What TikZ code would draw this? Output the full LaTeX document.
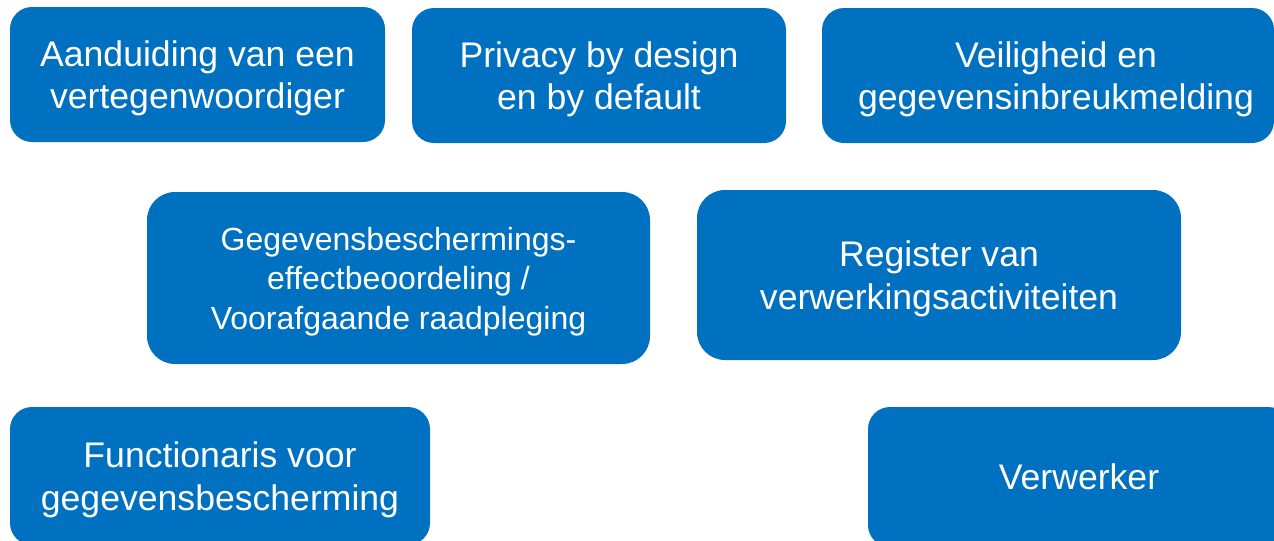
\documentclass[tikz,border=0pt]{standalone}
\usepackage{fontspec}
\setmainfont{Liberation Sans}
\definecolor{avgblauw}{HTML}{0070C0}
\tikzset{
  blok/.style={shape=rectangle,fill=avgblauw,text=white,align=center,inner sep=0pt,
    rounded corners=16.5pt,minimum height=101.25pt},
  groot/.style={font=\fontsize{26.7}{32}\selectfont},
  klein/.style={font=\fontsize{24}{29.6}\selectfont},
  zak/.style={text depth=#1},
}
\begin{document}
\begin{tikzpicture}[x=0.75pt,y=-0.75pt]
  \useasboundingbox (0,0) rectangle (1274,540);
  \clip (0,0) rectangle (1274,540);
  % bovenste rij
  \node[blok,groot,zak=-2pt,minimum width=281.25pt] (vertegenwoordiger) at (197.5,74.5) {Aanduiding van een\\vertegenwoordiger};
  \node[blok,groot,zak=-2pt,minimum width=280.5pt] (privacy) at (599,75.5) {Privacy by design\\en by default};
  \node[blok,groot,zak=-2pt,minimum width=339pt] (veiligheid) at (1048,75.5) {\hspace*{12pt}Veiligheid en\\\hspace*{12pt}gegevensinbreukmelding};
  % middelste rij
  \node[blok,klein,zak=-4pt,minimum width=377.25pt,minimum height=129pt,rounded corners=21pt] (dpia) at (398.5,278) {Gegevensbeschermings-\\effectbeoordeling /\\Voorafgaande raadpleging};
  \node[blok,groot,zak=-2.6pt,minimum width=363pt,minimum height=127.5pt,rounded corners=21pt] (register) at (939,275) {Register van\\verwerkingsactiviteiten};
  % onderste rij
  \node[blok,groot,zak=0pt,minimum width=315pt,minimum height=103.5pt] (functionaris) at (220,476) {Functionaris voor\\gegevensbescherming};
  \node[blok,groot,minimum width=316.5pt,minimum height=105pt] (verwerker) at (1079,477) {Verwerker};
\end{tikzpicture}
\end{document}
